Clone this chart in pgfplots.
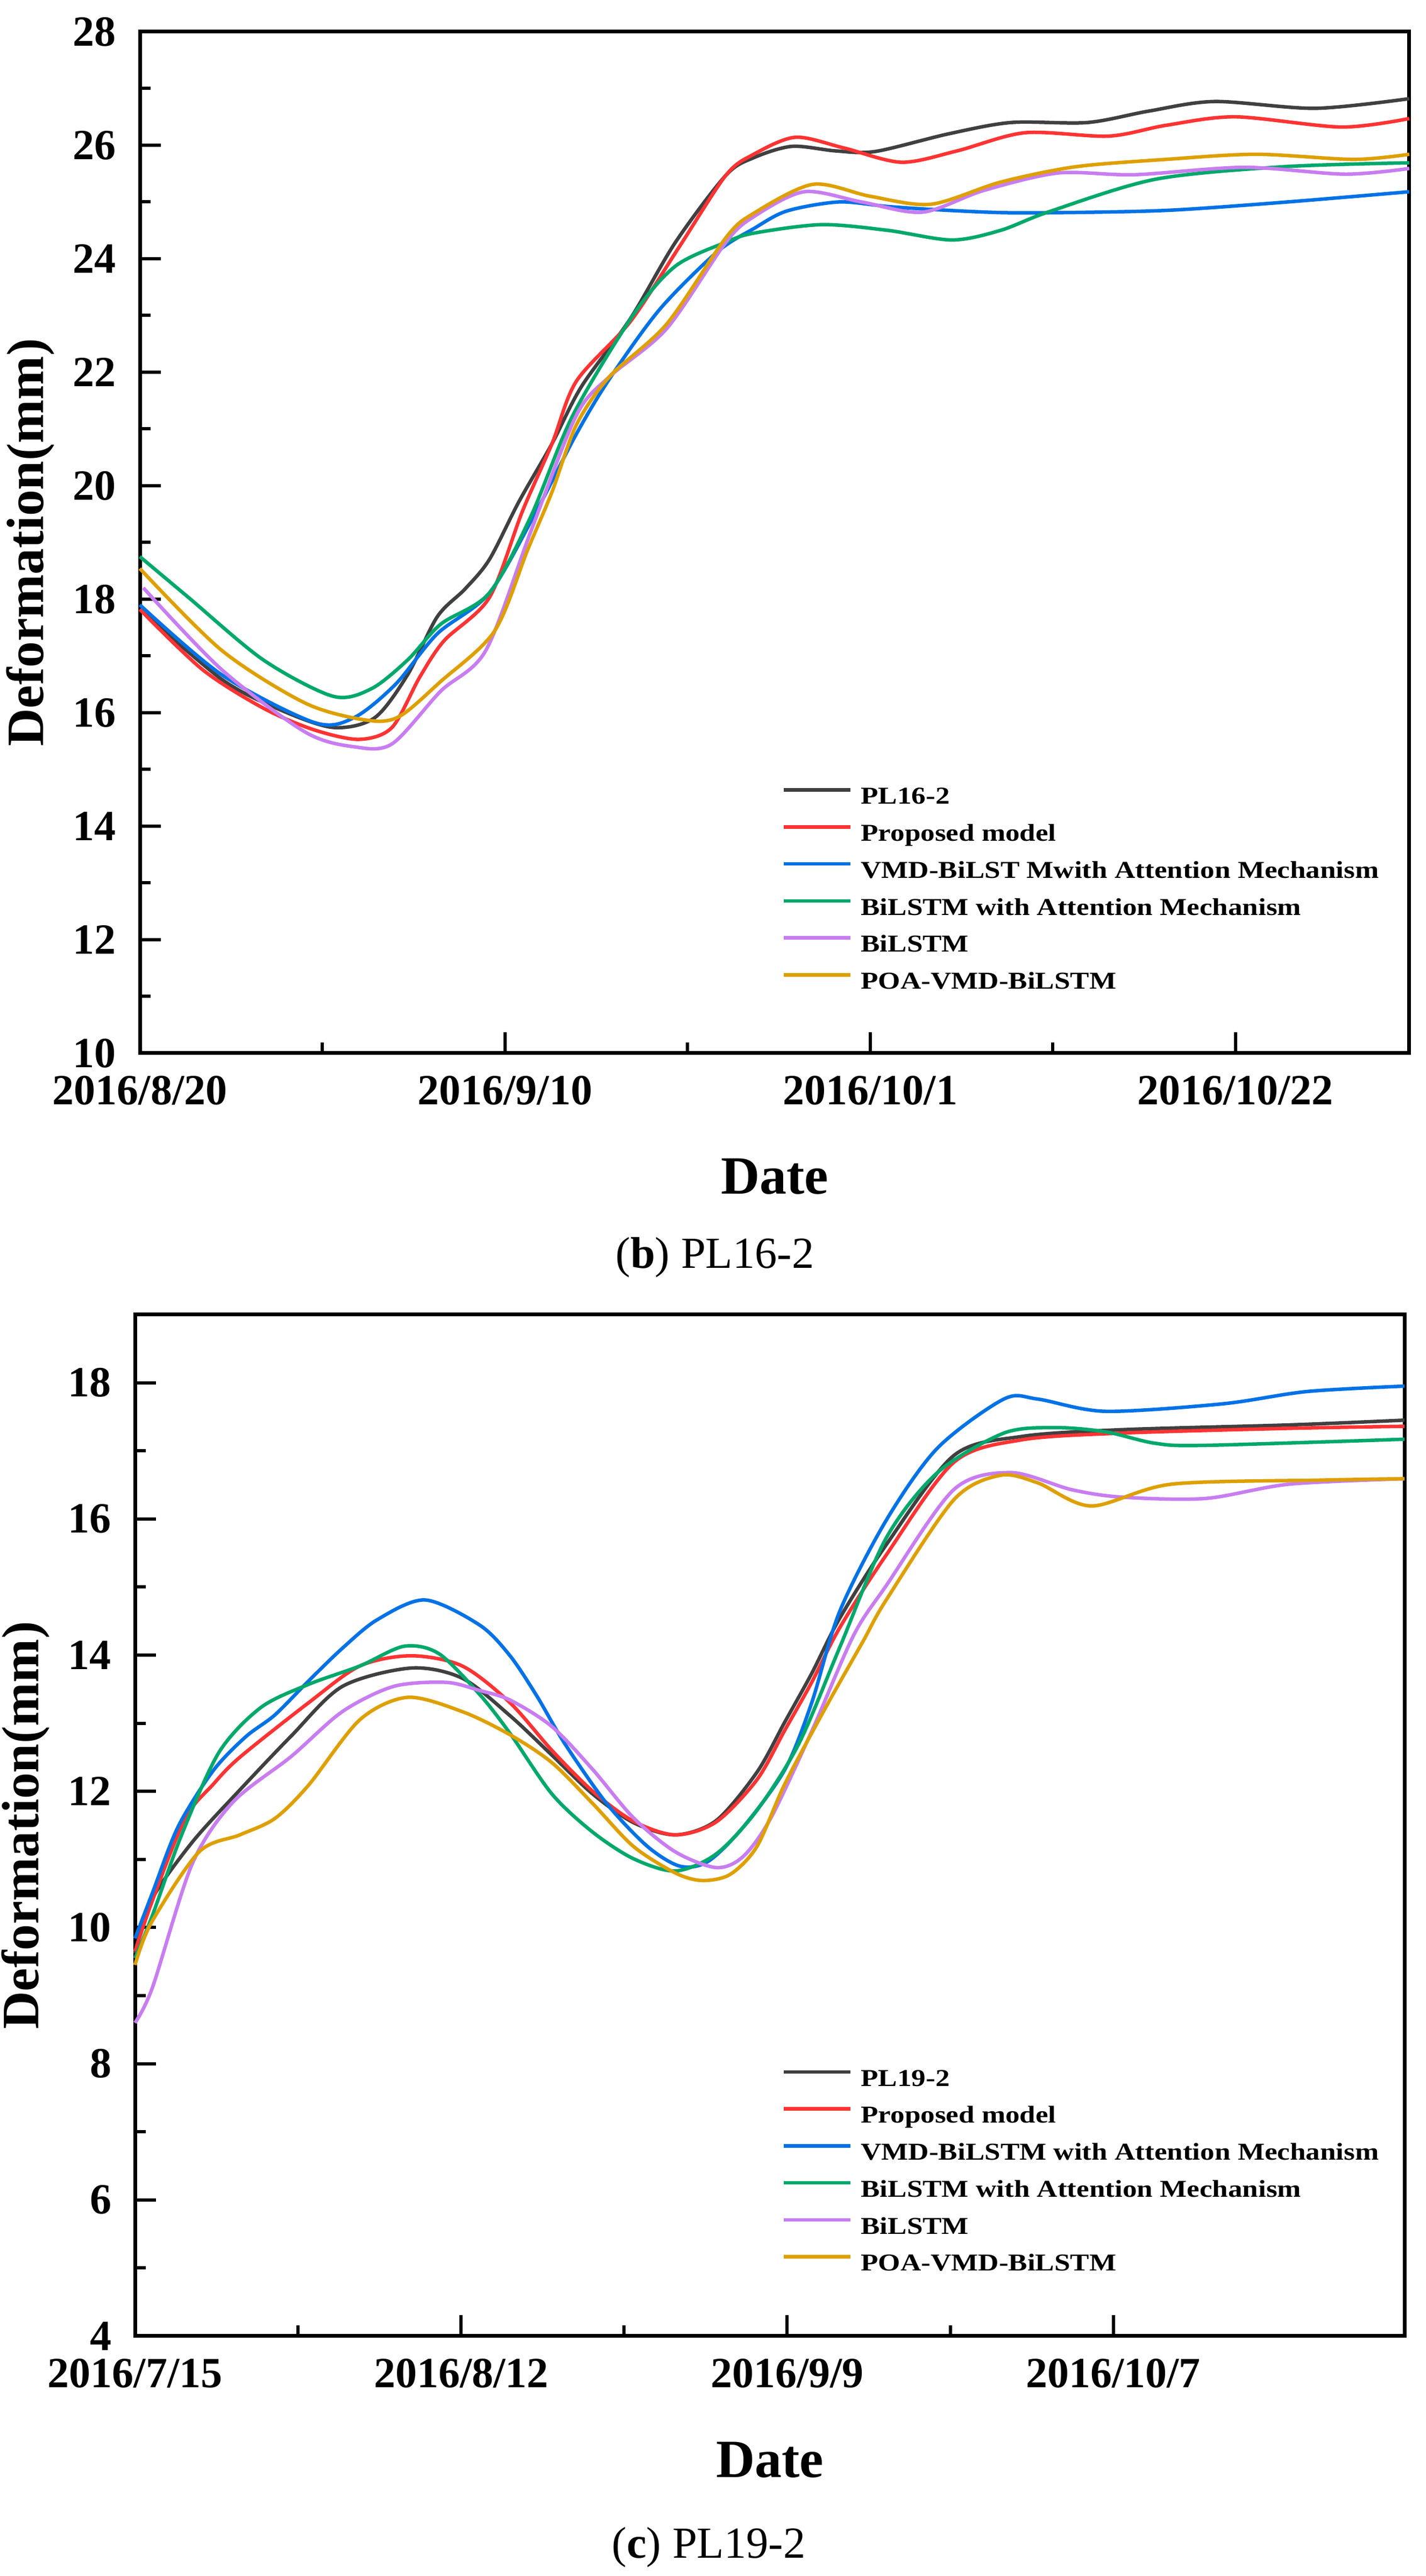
\documentclass[border=0pt]{standalone}
\usepackage{fontspec}
\setmainfont{Liberation Serif}
\newfontfamily\legfont[FakeStretch=1.18]{Liberation Serif}
\usepackage{pgfplots}
\pgfplotsset{compat=1.18}

\definecolor{cBlack}{RGB}{64,64,64}
\definecolor{cRed}{RGB}{255,51,51}
\definecolor{cBlue}{RGB}{0,114,230}
\definecolor{cGreen}{RGB}{0,168,107}
\definecolor{cViolet}{RGB}{200,125,240}
\definecolor{cGold}{RGB}{222,160,0}

\pgfplotsset{
  defax/.style={
    anchor=south west, scale only axis,
    width=472pt, height=379.8pt,
    clip=false,
    axis line style={line width=1.4pt},
    every tick/.style={black, line width=1.2pt},
    major tick length=7.7pt, minor tick length=4pt,
    tick align=inside, xtick pos=left, ytick pos=left,
    minor x tick num=1, minor y tick num=1,
    tick label style={font=\fontsize{16pt}{16pt}\selectfont\bfseries},
    /pgf/number format/assume math mode=true,
    xticklabel style={yshift=-5pt},
    yticklabel style={inner sep=0pt, xshift=-8.6pt},
    ylabel={Deformation(mm)},
    ylabel style={at={(axis description cs:-0.086,0.5)}, anchor=center,
      inner sep=0pt, font=\fontsize{19.5pt}{19.5pt}\selectfont\bfseries},
    xlabel={Date},
    xlabel style={at={(axis description cs:0.5,-0.121)}, anchor=center,
      font=\fontsize{20pt}{20pt}\selectfont\bfseries},
    legend cell align=left,
    legend image code/.code={\draw[#1] (0pt,3pt) -- (24.8pt,3pt);},
    legend style={draw=none, fill=none, anchor=north west, inner sep=0pt,
      row sep=5.25pt,
      font=\legfont\fontsize{9pt}{9pt}\selectfont\bfseries,
      nodes={inner sep=0pt, text height=6.5pt, text depth=2pt},
      /tikz/every odd column/.append style={column sep=3.2pt}},
    every axis plot/.append style={line width=1.3pt, smooth, tension=0.5},
  }
}

\begin{document}
\begin{tikzpicture}
\useasboundingbox (0,0) rectangle (530pt,957.8pt);

% (b) PL16-2, day 0 = 2016/8/20
\begin{axis}[defax, at={(52pt,566.2pt)},
  xmin=0, xmax=73, ymin=10, ymax=28,
  xtick={0,21,42,63},
  xticklabels={2016/8/20,2016/9/10,2016/10/1,2016/10/22},
  ytick={10,12,...,28},
  legend style={at={(rel axis cs:0.5055,0.2615)}}]
\addplot[cBlack] coordinates {
 (0,17.82) (4.7,16.59) (8,16.06) (11.1,15.74) (13.5,15.91) (15.4,16.67)
 (17.1,17.69) (18.7,18.18) (20.1,18.70) (21.8,19.72) (23.7,20.74) (25.4,21.75)
 (28.2,22.94) (30.8,24.29) (33.7,25.47) (35.3,25.78) (37.5,25.98) (40,25.9)
 (42.3,25.89) (46.5,26.2) (50.1,26.40) (54.5,26.40) (58,26.6) (61.8,26.77)
 (67.6,26.65) (73,26.82)};
\addlegendentry{PL16-2}
\addplot[cRed] coordinates {
 (0,17.82) (3.6,16.76) (7.1,16.08) (10,15.70) (12.6,15.53) (14.5,15.74)
 (16.1,16.63) (17.5,17.27) (20.1,18.03) (22.0,19.55) (23.7,20.74) (25.1,21.84)
 (28.2,22.89) (31.0,24.2) (33.7,25.47) (35.3,25.84) (37.7,26.14) (40.5,25.95)
 (43.8,25.70) (47,25.9) (50.9,26.22) (55.7,26.16) (59,26.35) (63.0,26.50)
 (69.1,26.32) (73,26.47)};
\addlegendentry{Proposed model}
\addplot[cBlue] coordinates {
 (0,17.90) (4.7,16.67) (10,15.83) (12.3,15.91) (14.7,16.50) (17.1,17.39)
 (20.1,18.11) (22.8,19.55) (25.1,20.91) (27.0,21.88) (29.9,23.11) (33.2,24.12)
 (35.3,24.53) (37.2,24.84) (40.2,25.00) (43,24.92) (46,24.86) (49.9,24.81)
 (55,24.82) (59.6,24.86) (66,25.0) (73,25.18)};
\addlegendentry{VMD-BiLST Mwith Attention Mechanism}
\addplot[cGreen] coordinates {
 (0,18.75) (2.8,18.03) (7.1,16.93) (11.1,16.29) (13.3,16.42) (15.4,16.93)
 (17.3,17.56) (20.1,18.11) (22.5,19.47) (24.9,21.24) (28.4,23.02) (30.8,23.87)
 (33.7,24.29) (35.3,24.45) (39.2,24.60) (43,24.5) (46.7,24.33) (49.5,24.5)
 (52.3,24.83) (58.4,25.40) (65.7,25.62) (73,25.69)};
\addlegendentry{BiLSTM with Attention Mechanism}
\addplot[cViolet] coordinates {
 (0.2,18.2) (4.7,16.76) (9.5,15.66) (12.3,15.40) (14.5,15.45) (17.3,16.38)
 (19.9,17.1) (22.5,19.21) (25.1,21.24) (27.0,21.92) (30.3,22.77) (33.7,24.29)
 (35.3,24.74) (38.2,25.18) (41.5,25.0) (45.0,24.82) (48.5,25.2) (52.8,25.51)
 (57.2,25.48) (63.5,25.61) (69.3,25.49) (73,25.59)};
\addlegendentry{BiLSTM}
\addplot[cGold] coordinates {
 (0,18.54) (4.7,17.10) (9.5,16.17) (13.0,15.87) (14.9,15.93) (17.3,16.55)
 (20.4,17.44) (22.3,18.87) (23.7,19.89) (25.1,21.07) (27.0,21.92) (30.3,22.85)
 (33.7,24.37) (35.3,24.80) (38.7,25.31) (42,25.1) (45.5,24.96) (49.5,25.35)
 (53.8,25.62) (59,25.75) (64.2,25.84) (69.8,25.75) (73,25.84)};
\addlegendentry{POA-VMD-BiLSTM}
\node[font=\fontsize{16.5pt}{16.5pt}\selectfont] at (rel axis cs:0.453,-0.200)
  {(\textbf{b}) PL16-2};
\end{axis}

% (c) PL19-2, day 0 = 2016/7/15
\begin{axis}[defax, at={(50.2pt,89.2pt)},
  xmin=0, xmax=109, ymin=4, ymax=19,
  xtick={0,28,56,84},
  xticklabels={2016/7/15,2016/8/12,2016/9/9,2016/10/7},
  ytick={4,6,...,18},
  legend style={at={(rel axis cs:0.5093,0.2625)}}]
\addplot[cBlack] coordinates {
 (0,9.62) (1.4,10.40) (4.9,11.25) (9.0,12.02) (13.4,12.81) (17.8,13.54)
 (23.7,13.81) (28.1,13.66) (32.2,13.11) (35.8,12.53) (39.3,11.96) (42.8,11.54)
 (46.4,11.36) (49.9,11.57) (53.4,12.28) (55.8,13.02) (58.1,13.73) (60.5,14.54)
 (64.5,15.62) (70.3,16.93) (76.1,17.21) (84.7,17.31) (99.1,17.38) (109,17.45)};
\addlegendentry{PL19-2}
\addplot[cRed] coordinates {
 (0,9.65) (1.5,10.4) (4.3,11.6) (6.7,12.1) (9.0,12.5) (14.9,13.30) (19.3,13.84)
 (23.7,13.99) (28.1,13.84) (32.2,13.3) (35.8,12.6) (39.3,12.0) (42.8,11.56)
 (46.4,11.36) (49.9,11.55) (53.4,12.17) (55.8,12.9) (58.1,13.6) (60.5,14.4)
 (64.5,15.47) (70.3,16.83) (76.1,17.16) (84.7,17.26) (99.1,17.33) (109,17.36)};
\addlegendentry{Proposed model}
\addplot[cBlue] coordinates {
 (0,9.84) (1.5,10.51) (3.7,11.48) (6.7,12.30) (9.5,12.80) (12.0,13.12)
 (14.9,13.62) (17.8,14.10) (20.8,14.52) (24.9,14.81) (29.6,14.44) (32.2,13.99)
 (34.5,13.4) (36.9,12.70) (40.5,11.82) (44.0,11.19) (46.8,10.90) (49.2,10.97)
 (52.2,11.47) (55.8,12.32) (58.1,13.30) (60.5,14.64) (64.5,15.98) (68.9,17.04)
 (74.6,17.76) (77.5,17.76) (83.3,17.58) (93.4,17.69) (100.6,17.87) (109,17.95)};
\addlegendentry{VMD-BiLSTM with Attention Mechanism}
\addplot[cGreen] coordinates {
 (0,9.55) (1.5,10.18) (4.0,11.36) (7.2,12.57) (10.8,13.23) (14.9,13.57)
 (19.3,13.84) (23.1,14.13) (26.1,14.02) (29.6,13.42) (32.2,12.85) (35.8,11.96)
 (39.3,11.40) (42.8,11.01) (46.4,10.83) (49.9,11.08) (53.4,11.72) (57.0,12.70)
 (60.5,14.11) (64.5,15.72) (68.9,16.68) (74.6,17.26) (79.0,17.34) (83.3,17.28)
 (87.6,17.11) (91.9,17.08) (109,17.17)};
\addlegendentry{BiLSTM with Attention Mechanism}
\addplot[cViolet] coordinates {
 (0,8.60) (1.5,9.12) (4.9,10.93) (8.4,11.84) (13.4,12.51) (17.8,13.17)
 (22.2,13.54) (26.7,13.60) (29.6,13.48) (32.2,13.34) (35.8,12.95) (39.3,12.32)
 (42.8,11.61) (46.4,11.11) (49.9,10.88) (52.2,11.04) (54.6,11.61) (58.1,12.88)
 (61.7,14.29) (64.5,15.02) (70.3,16.43) (75.2,16.68) (80.4,16.43) (84.7,16.32)
 (91.9,16.30) (99.1,16.51) (109,16.59)};
\addlegendentry{BiLSTM}
\addplot[cGold] coordinates {
 (0,9.45) (1.4,10.07) (5.5,11.11) (9.0,11.36) (12.0,11.60) (14.9,12.09)
 (19.3,13.05) (23.4,13.38) (28.1,13.17) (32.2,12.83) (35.8,12.42) (39.3,11.82)
 (42.8,11.19) (46.4,10.80) (48.7,10.69) (51.1,10.78) (53.4,11.19) (55.8,12.11)
 (59.3,13.23) (62.5,14.2) (64.5,14.81) (70.3,16.28) (74.3,16.64) (77.5,16.53)
 (82.1,16.19) (89.0,16.51) (102,16.57) (109,16.59)};
\addlegendentry{POA-VMD-BiLSTM}
\node[font=\fontsize{16.5pt}{16.5pt}\selectfont] at (rel axis cs:0.452,-0.207)
  {(\textbf{c}) PL19-2};
\end{axis}
\end{tikzpicture}
\end{document}
